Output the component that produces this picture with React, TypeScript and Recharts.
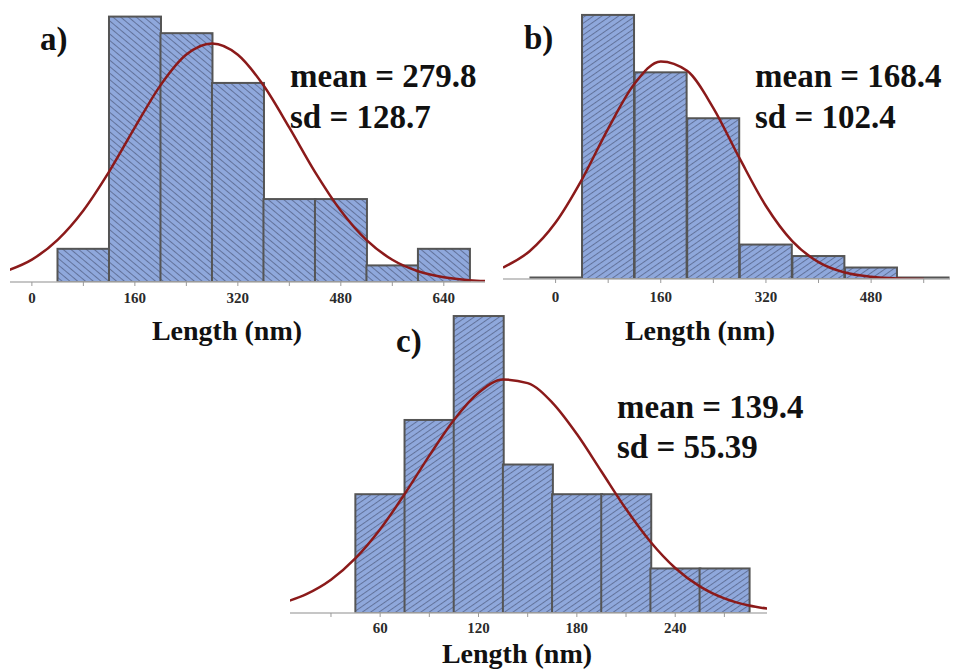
import React from "react";
import { ComposedChart, Bar, Line, XAxis, YAxis } from "recharts";

// a) histogram + fitted normal curve
const centersA = [80, 160, 240, 320, 400, 480, 560, 640];
const countsA = [2, 16, 15, 12, 5, 5, 1, 2];
const curveXA = [-40, 0, 40, 80, 120, 160, 200, 240, 280, 320, 360, 400, 440, 480, 520, 560, 600, 640, 680, 720];
const curveA = [0.66, 1.35, 2.54, 4.31, 6.65, 9.32, 11.87, 13.71, 14.38, 13.7, 11.84, 9.3, 6.62, 4.29, 2.52, 1.34, 0.65, 0.29, 0.11, 0.04];
const ticksA = [0, 80, 160, 240, 320, 400, 480, 560, 640];
const labelsA = [0, 160, 320, 480, 640];

// b)
const centersB = [0, 80, 160, 240, 320, 400, 480, 560];
const countsB = [0, 23, 18, 14, 3, 2, 1, 0];
const curveXB = [-80, -40, 0, 40, 80, 120, 160, 200, 240, 280, 320, 360, 400, 440, 480, 520, 560, 600];
const curveB = [1.0, 2.4, 4.92, 8.66, 13.1, 17.0, 18.95, 18.13, 14.89, 10.5, 6.36, 3.3, 1.47, 0.56, 0.19, 0.05, 0.01, null];
const ticksB = [0, 80, 160, 240, 320, 400, 480, 560];
const labelsB = [0, 160, 320, 480];

// c)
const centersC = [60, 90, 120, 150, 180, 210, 240, 270];
const countsC = [8, 13, 20, 10, 8, 8, 3, 3];
const curveXC = [0, 15, 30, 45, 60, 75, 90, 105, 120, 135, 150, 165, 180, 195, 210, 225, 240, 255, 270, 285, 300];
const curveC = [0.66, 1.27, 2.24, 3.69, 5.64, 8.02, 10.6, 13.0, 14.83, 15.72, 15.48, 14.17, 12.05, 9.53, 7.0, 4.78, 3.03, 1.79, 0.98, 0.5, 0.24];
const ticksC = [30, 60, 90, 120, 150, 180, 210, 240, 270];
const labelsC = [60, 120, 180, 240];

const SERIF = '"Liberation Serif", "Times New Roman", serif';
const CURVE = "#8b1a1a";
const EDGE = "#555";

// curve rows are on a half-bin grid, bar rows sit on the bin centres
function buildRows(curveX: number[], curve: (number | null)[], centers: number[], counts: number[]) {
  return curveX.map((x, i) => {
    const k = centers.indexOf(x);
    return { x, fit: curve[i], count: k >= 0 ? counts[k] : null };
  });
}

const rowsA = buildRows(curveXA, curveA, centersA, countsA);
const rowsB = buildRows(curveXB, curveB, centersB, countsB);
const rowsC = buildRows(curveXC, curveC, centersC, countsC);

// band = half a bin (grid step), so widen each bar to a full bin
function binShape(patternId: string) {
  return (props: any) => {
    const { x, y, width, height, payload } = props;
    if (!payload || payload.count == null) return <g />;
    const bx = x - width / 2;
    const bw = width * 2;
    if (payload.count === 0) {
      // empty bin: just the dark bottom edge, kept inside the plot clip
      const base = y + height - 1.3;
      return <line x1={bx} x2={bx + bw} y1={base} y2={base} stroke={EDGE} strokeWidth={2.5} />;
    }
    return (
      <rect x={bx} y={y} width={bw} height={height} fill={`url(#${patternId})`} stroke={EDGE} strokeWidth={2} />
    );
  };
}

function tickRenderer(labels: number[], dy: number) {
  return (props: any) => {
    const { x, y, payload } = props;
    if (!labels.includes(payload.value)) return <g />;
    return (
      <text x={x} y={y + dy} textAnchor="middle" fontFamily={SERIF} fontWeight="bold" fontSize={15} fill="#2b2b2b">
        {payload.value}
      </text>
    );
  };
}

interface PanelProps {
  rows: any[];
  width: number;
  height: number;
  margin: { top: number; right: number; left: number; bottom: number };
  axisHeight: number;
  domain: [number, number];
  yMax: number;
  ticks: number[];
  labels: number[];
  labelDy: number;
  pattern: string;
}

function Panel({ rows, width, height, margin, axisHeight, domain, yMax, ticks, labels, labelDy, pattern }: PanelProps) {
  return (
    <ComposedChart width={width} height={height} data={rows} margin={margin} barCategoryGap={0} barGap={0}>
      <XAxis
        type="number"
        dataKey="x"
        domain={domain}
        allowDataOverflow
        ticks={ticks}
        interval={0}
        height={axisHeight}
        tickSize={4}
        tickLine={{ stroke: "#9a9a9a" }}
        axisLine={{ stroke: "#b3b3b3", strokeWidth: 1.5 }}
        tick={tickRenderer(labels, labelDy)}
      />
      <YAxis hide domain={[0, yMax]} allowDataOverflow />
      <Bar dataKey="count" minPointSize={1} isAnimationActive={false} shape={binShape(pattern)} />
      <Line
        type="monotone"
        dataKey="fit"
        stroke={CURVE}
        strokeWidth={2.5}
        dot={false}
        activeDot={false}
        isAnimationActive={false}
      />
    </ComposedChart>
  );
}

const big = { fontFamily: SERIF, fontWeight: "bold" as const, fill: "#111" };

export default function App() {
  return (
    <div style={{ position: "absolute", left: 0, top: 0, width: 960, height: 669, background: "#fff", overflow: "hidden" }}>
      <svg width={0} height={0} style={{ position: "absolute" }}>
        <defs>
          <pattern id="hatchBack" patternUnits="userSpaceOnUse" width="8" height="5" patternTransform="rotate(40)">
            <rect width="8" height="5" fill="#8fa8dc" />
            <line x1="0" y1="0.5" x2="8" y2="0.5" stroke="#62729a" strokeWidth="1" />
          </pattern>
          <pattern id="hatchFwd" patternUnits="userSpaceOnUse" width="8" height="4.8" patternTransform="rotate(-35)">
            <rect width="8" height="4.8" fill="#8fa8dc" />
            <line x1="0" y1="0.5" x2="8" y2="0.5" stroke="#62729a" strokeWidth="1" />
          </pattern>
        </defs>
      </svg>

      <div style={{ position: "absolute", left: 0, top: 0 }}>
        <Panel
          rows={rowsA}
          width={490}
          height={310}
          margin={{ top: 0, right: 5, left: 10, bottom: 0 }}
          axisHeight={28}
          domain={[-34, 704]}
          yMax={17}
          ticks={ticksA}
          labels={labelsA}
          labelDy={15}
          pattern="hatchBack"
        />
      </div>
      <div style={{ position: "absolute", left: 490, top: 0 }}>
        <Panel
          rows={rowsB}
          width={470}
          height={310}
          margin={{ top: 0, right: 10, left: 13, bottom: 0 }}
          axisHeight={31}
          domain={[-80, 600]}
          yMax={24.3}
          ticks={ticksB}
          labels={labelsB}
          labelDy={17}
          pattern="hatchFwd"
        />
      </div>
      <div style={{ position: "absolute", left: 280, top: 300 }}>
        <Panel
          rows={rowsC}
          width={490}
          height={345}
          margin={{ top: 0, right: 3, left: 10, bottom: 0 }}
          axisHeight={32}
          domain={[5, 296]}
          yMax={21.08}
          ticks={ticksC}
          labels={labelsC}
          labelDy={14}
          pattern="hatchFwd"
        />
      </div>

      <svg width={960} height={669} style={{ position: "absolute", left: 0, top: 0, pointerEvents: "none" }}>
        <text x={40} y={50} fontSize={33} {...big}>a)</text>
        <text x={290} y={87} fontSize={33} {...big}>mean = 279.8</text>
        <text x={290} y={128} fontSize={33} {...big}>sd = 128.7</text>
        <text x={227} y={340} fontSize={28} textAnchor="middle" {...big}>Length (nm)</text>

        <text x={524} y={49} fontSize={33} {...big}>b)</text>
        <text x={755} y={87} fontSize={33} {...big}>mean = 168.4</text>
        <text x={755} y={128} fontSize={33} {...big}>sd = 102.4</text>
        <text x={700} y={340} fontSize={28} textAnchor="middle" {...big}>Length (nm)</text>

        <text x={396} y={352} fontSize={33} {...big}>c)</text>
        <text x={617} y={418} fontSize={33} {...big}>mean = 139.4</text>
        <text x={617} y={458} fontSize={33} {...big}>sd = 55.39</text>
        <text x={517} y={663} fontSize={28} textAnchor="middle" {...big}>Length (nm)</text>
      </svg>
    </div>
  );
}
